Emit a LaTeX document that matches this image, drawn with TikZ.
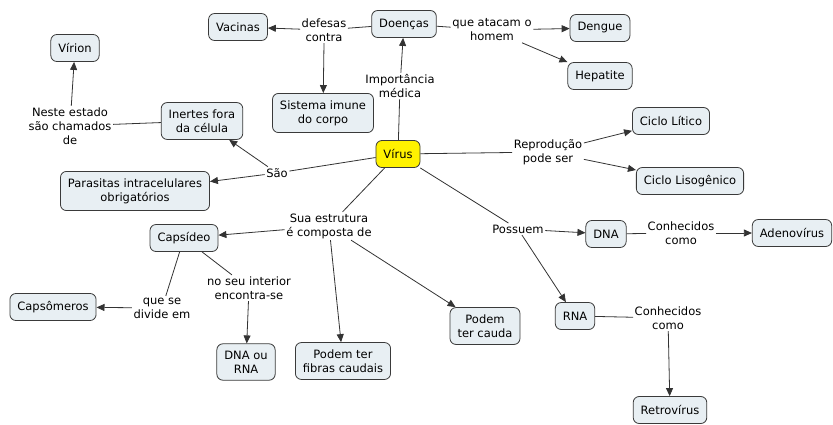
\documentclass[tikz,border=0pt]{standalone}
\usepackage{fontspec}
\setmainfont{DejaVu Sans}
\usetikzlibrary{arrows.meta}
\definecolor{boxfill}{HTML}{E8EFF3}
\definecolor{boxline}{HTML}{3A3A3A}
\definecolor{linkline}{HTML}{333333}
\definecolor{virusfill}{HTML}{FFF200}
\tikzset{
  concept/.style={draw=boxline, fill=boxfill, rounded corners=6pt, line width=0.8pt,
    align=center, inner xsep=7.5pt, inner ysep=7pt, minimum height=27pt,
    font=\fontsize{11.5}{14}\selectfont},
  virus/.style={concept, fill=virusfill},
  phrase/.style={align=center, inner sep=1.5pt, font=\fontsize{11.5}{14}\selectfont},
  lnk/.style={draw=linkline, line width=0.8pt},
  arr/.style={lnk, -{Triangle[length=8pt,width=7pt]}},
}
\begin{document}
\begin{tikzpicture}[x=1pt,y=-1pt]
\useasboundingbox (0,0) rectangle (833,424);
% concepts
\node[virus] (virus) at (398,154) {Vírus};
\node[concept] (virion) at (75,48) {Vírion};
\node[concept] (vacinas) at (238,27) {Vacinas};
\node[concept] (doencas) at (404,24) {Doenças};
\node[concept] (dengue) at (600,28) {Dengue};
\node[concept] (hepatite) at (600,76) {Hepatite};
\node[concept] (sistema) at (323,113) {Sistema imune\\do corpo};
\node[concept] (inertes) at (202,121) {Inertes fora\\da célula};
\node[concept] (parasitas) at (135,191) {Parasitas intracelulares\\obrigatórios};
\node[concept] (litico) at (671,121) {Ciclo Lítico};
\node[concept] (lisog) at (690,181) {Ciclo Lisogênico};
\node[concept] (capsideo) at (184,238) {Capsídeo};
\node[concept] (capsomeros) at (53,307) {Capsômeros};
\node[concept] (dnaourna) at (246,362) {DNA ou\\RNA};
\node[concept] (fibras) at (343,361) {Podem ter\\fibras caudais};
\node[concept] (cauda) at (485,326) {Podem\\ter cauda};
\node[concept] (dna) at (606,234) {DNA};
\node[concept] (adeno) at (792,233) {Adenovírus};
\node[concept] (rna) at (575,316) {RNA};
\node[concept] (retro) at (670,410) {Retrovírus};
% linking phrases
\node[phrase] (defesas) at (324,30) {defesas\\contra};
\node[phrase] (atacam) at (492,30) {que atacam o\\homem};
\node[phrase] (importancia) at (400,86) {Importância\\médica};
\node[phrase] (neste) at (70,126) {Neste estado\\são chamados\\de};
\node[phrase] (sao) at (277,173) {São};
\node[phrase] (reproducao) at (548,152) {Reprodução\\pode ser};
\node[phrase] (estrutura) at (329,226) {Sua estrutura\\é composta de};
\node[phrase] (possuem) at (518,229) {Possuem};
\node[phrase] (conhdna) at (681,233) {Conhecidos\\como};
\node[phrase] (conhrna) at (668,318) {Conhecidos\\como};
\node[phrase] (divide) at (162,308) {que se\\divide em};
\node[phrase] (interior) at (249,288) {no seu interior\\encontra-se};
% connectors
\draw[lnk] (virus) -- (importancia);
\draw[arr] (importancia) -- (doencas);
\draw[lnk] (doencas) -- (defesas);
\draw[arr] (defesas) -- (vacinas);
\draw[arr] (defesas.south) -- (sistema);
\draw[lnk] (doencas) -- (atacam);
\draw[arr] (atacam) -- (dengue);
\draw[arr] (atacam) -- (hepatite);
\draw[lnk] (virus) -- (sao);
\draw[arr] (sao) -- (inertes);
\draw[arr] (sao) -- (parasitas);
\draw[lnk] (inertes) -- (neste);
\draw[arr] (neste) -- (virion);
\draw[lnk] (virus) -- (reproducao);
\draw[arr] (reproducao) -- (litico);
\draw[arr] (reproducao) -- (lisog);
\draw[lnk] (virus) -- (estrutura);
\draw[arr] (estrutura) -- (capsideo);
\draw[arr] (estrutura) -- (fibras);
\draw[arr] (estrutura) -- (cauda);
\draw[lnk] (virus) -- (possuem);
\draw[arr] (possuem) -- (dna);
\draw[arr] (possuem) -- (rna);
\draw[lnk] (dna) -- (conhdna);
\draw[arr] (conhdna) -- (adeno);
\draw[lnk] (rna) -- (conhrna);
\draw[arr] (conhrna) -- (retro);
\draw[lnk] (capsideo) -- (divide);
\draw[arr] (divide) -- (capsomeros);
\draw[lnk] (capsideo) -- (interior);
\draw[arr] (interior) -- (dnaourna);
\end{tikzpicture}
\end{document}
